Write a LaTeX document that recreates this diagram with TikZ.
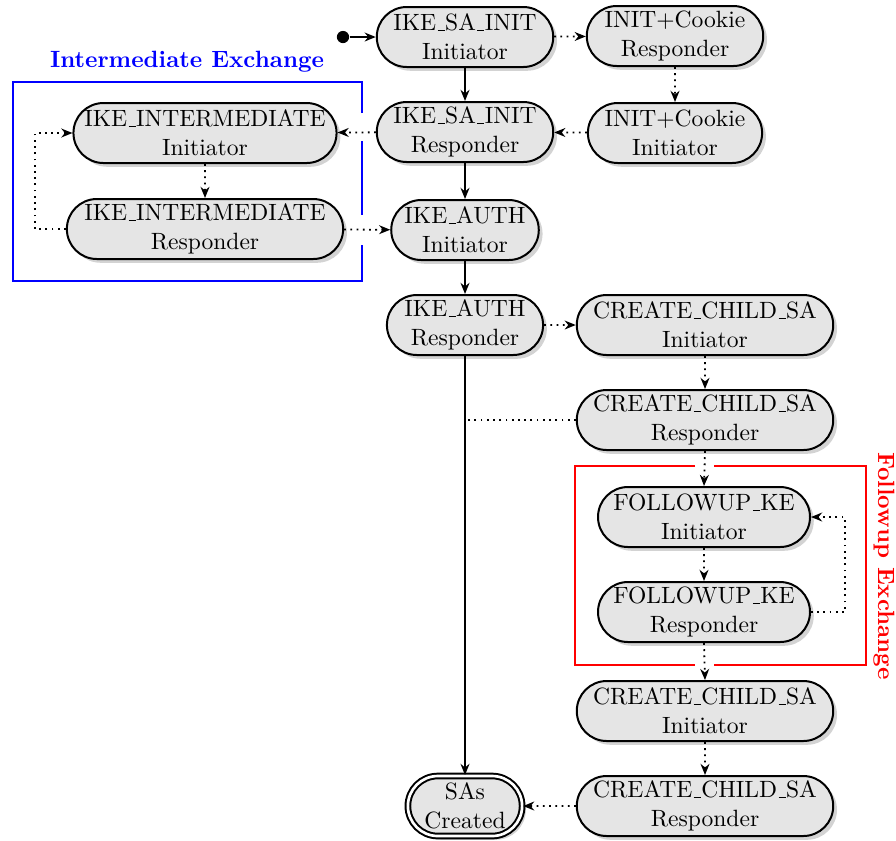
\documentclass[tikz,border=0pt]{standalone}
\usetikzlibrary{shapes.misc,shadows,arrows.meta}
\newcommand\usc{\leavevmode\kern.06em\vbox{\hrule width.3em height.4pt}\kern.02em}
\begin{document}
\fontsize{10.6}{12.9}\selectfont
\begin{tikzpicture}[x=0.45pt,y=-0.45pt,
  state/.style={rounded rectangle, draw, line width=0.9pt, fill=gray!20, align=center,
    minimum height=27pt, inner ysep=1pt, inner xsep=1.8pt,
    drop shadow={opacity=0.35, shadow xshift=1.7pt, shadow yshift=-1.7pt}},
  flow/.style={thick, -{Stealth[length=5pt,width=4pt]}},
  dflow/.style={thick, dotted, -{Stealth[length=5pt,width=4pt]}},
  dline/.style={thick, dotted},
  grp/.style={line width=0.9pt}]
\useasboundingbox (0,0) rectangle (896,840);

% nodes
\node[state, minimum width=83pt] (isi) at (465,37) {IKE\usc SA\usc INIT\\Initiator};
\node[state, minimum width=83pt] (icr) at (675,36) {INIT+Cookie\\Responder};
\node[state, minimum width=83pt] (isr) at (465,132) {IKE\usc SA\usc INIT\\Responder};
\node[state, minimum width=82pt] (ici) at (675,133) {INIT+Cookie\\Initiator};
\node[state, minimum width=122pt] (iii) at (205,133) {IKE\usc INTERMEDIATE\\Initiator};
\node[state, minimum width=122pt] (iir) at (205,229) {IKE\usc INTERMEDIATE\\Responder};
\node[state, minimum width=70pt] (iai) at (465,230) {IKE\usc AUTH\\Initiator};
\node[state, minimum width=70pt] (iar) at (465,325) {IKE\usc AUTH\\Responder};
\node[state, minimum width=119pt] (cci) at (705,325) {CREATE\usc CHILD\usc SA\\Initiator};
\node[state, minimum width=119pt] (ccr) at (705,420) {CREATE\usc CHILD\usc SA\\Responder};
\node[state, minimum width=99pt] (fki) at (704,517) {FOLLOWUP\usc KE\\Initiator};
\node[state, minimum width=99pt] (fkr) at (704,612) {FOLLOWUP\usc KE\\Responder};
\node[state, minimum width=119pt] (cci2) at (705,711) {CREATE\usc CHILD\usc SA\\Initiator};
\node[state, minimum width=119pt] (ccr2) at (705,806) {CREATE\usc CHILD\usc SA\\Responder};
\node[state, minimum width=55pt, double, double distance=1.2pt] (sas) at (465,806) {SAs\\Created};
\node[circle, fill, inner sep=0pt, minimum size=5.5pt] (start) at (343,37) {};

% group boxes
\draw[grp, blue] (362,113) -- (362,82) -- (13,82) -- (13,281) -- (362,281) -- (362,245);
\draw[grp, blue] (362,141) -- (362,215);
\node[blue, font=\bfseries] (intlbl) at (187,62) {Intermediate Exchange};
\draw[grp, red] (695,466) -- (575,466) -- (575,665) -- (695,665);
\draw[grp, red] (714,665) -- (866,665) -- (866,466) -- (714,466);
\node[red, font=\bfseries, rotate=-90] (fuplbl) at (884,566) {Followup Exchange};

% connectors
\draw[flow] (start) -- (isi);
\draw[flow] (isi) -- (isr);
\draw[dflow] (isi) -- (icr);
\draw[dflow] (icr) -- (ici);
\draw[dflow] (ici) -- (isr);
\draw[dflow] (isr) -- (iii);
\draw[flow] (isr) -- (iai);
\draw[dflow] (iii) -- (iir);
\coordinate (iloop) at (35,229);
\draw[dflow] (iir.west) -- (iloop) |- (iii.west);
\draw[dflow] (iir) -- (iai);
\draw[flow] (iai) -- (iar);
\draw[flow] (iar) -- (sas);
\draw[dflow] (iar) -- (cci);
\draw[dflow] (cci) -- (ccr);
\coordinate (join) at (iar.south |- ccr.west);
\draw[dline] (ccr.west) -- (join);
\draw[dflow] (ccr.south) -- (fki.north);
\draw[dflow] (fki) -- (fkr);
\coordinate (floop) at (845,612);
\draw[dflow] (fkr.east) -- (floop) |- (fki.east);
\draw[dflow] (fkr.south) -- (cci2.north);
\draw[dflow] (cci2) -- (ccr2);
\draw[dflow] (ccr2) -- (sas);
\end{tikzpicture}
\end{document}
